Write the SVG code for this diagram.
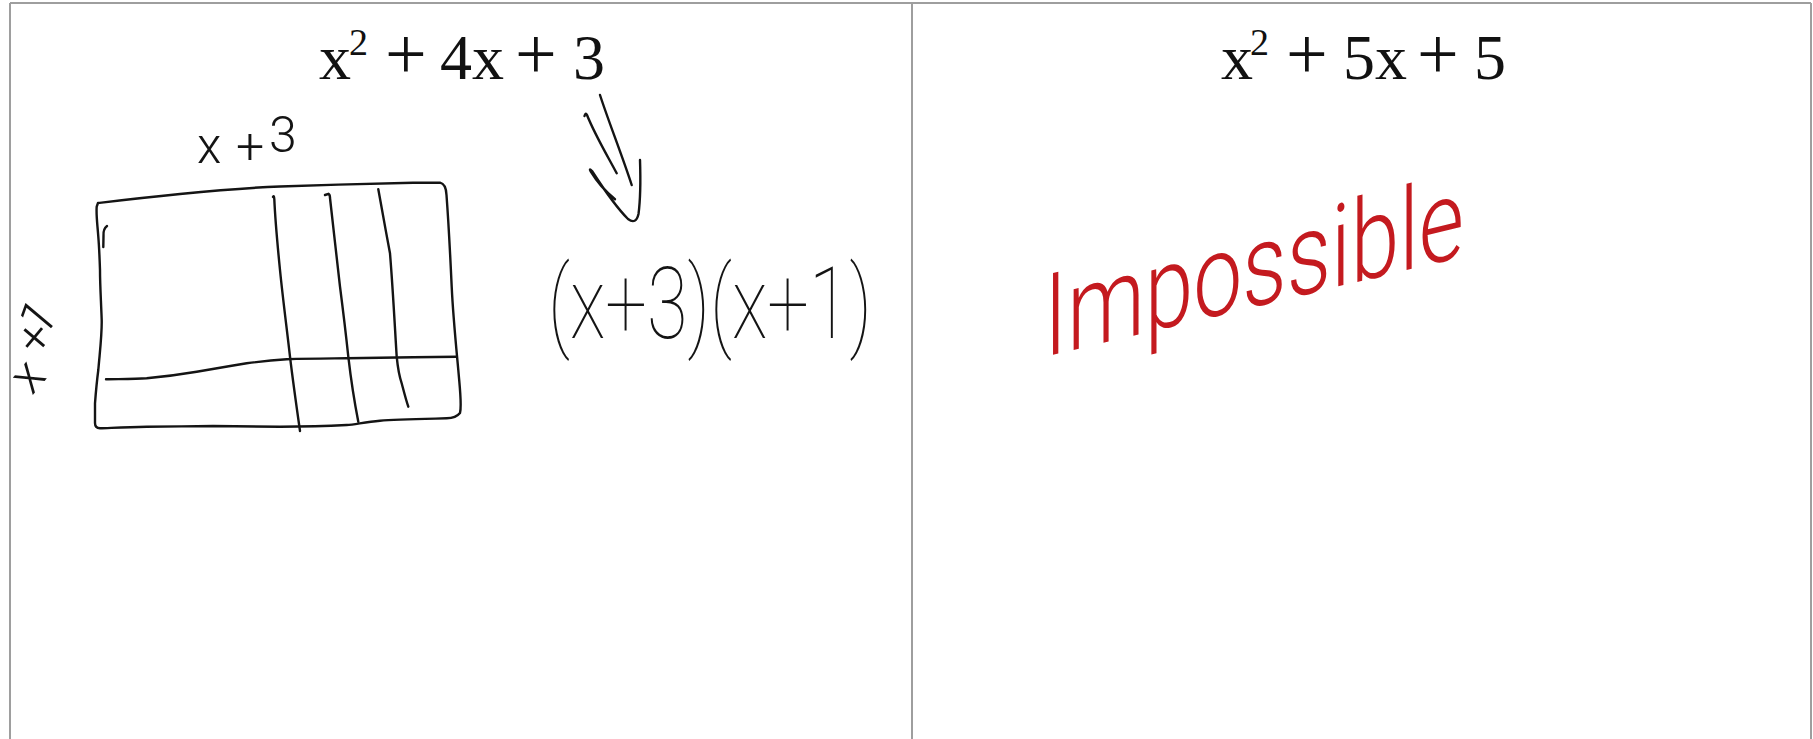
<svg xmlns="http://www.w3.org/2000/svg" width="1813" height="739" viewBox="0 0 1813 739">
  <style>
    .frame { stroke: #9e9e9e; stroke-width: 2; fill: none; }
    .title { font-family: "Liberation Serif", "DejaVu Serif", serif; font-size: 64px; fill: #111; }
    .sup { font-size: 38px; }
    .op { font-size: 74px; }
    .ink { fill: none; stroke: #141414; stroke-width: 2.4; stroke-linecap: round; stroke-linejoin: round; }
    .hand { font-family: Roboto, Lato, "Open Sans", sans-serif; font-weight: 100; fill: #141414; }
    .handsm { font-family: Roboto, Lato, "Open Sans", sans-serif; font-weight: 300; fill: #141414; }
    .red { font-family: Roboto, Lato, "Open Sans", sans-serif; font-weight: 300; fill: #c41a1f; }
  </style>
  <rect x="0" y="0" width="1813" height="739" fill="#ffffff"/>

  <g id="frame">
    <line class="frame" x1="10" y1="3" x2="1811" y2="3"/>
    <line class="frame" x1="10" y1="3" x2="10" y2="739"/>
    <line class="frame" x1="912" y1="3" x2="912" y2="739"/>
    <line class="frame" x1="1811" y1="3" x2="1811" y2="739"/>
  </g>

  <g id="title-left">
    <text class="title" y="79"><tspan x="319">x</tspan><tspan class="sup" x="349" y="55">2</tspan><tspan class="op" x="385" y="79">+</tspan><tspan x="440">4x</tspan><tspan class="op" x="515">+</tspan><tspan x="573">3</tspan></text>
  </g>

  <g id="title-right">
    <text class="title" y="79"><tspan x="1221">x</tspan><tspan class="sup" x="1250" y="55">2</tspan><tspan class="op" x="1286" y="79">+</tspan><tspan x="1343">5x</tspan><tspan class="op" x="1417">+</tspan><tspan x="1474">5</tspan></text>
  </g>

  <g id="area-model">
    <path class="ink" d="M98,203 C115,201 140,198 180,194 C210,191 240,188 280,186.5 C320,185 380,183.5 413,182.7 L440,182.7 Q446,184 446.5,195 C448,215 450,250 451.7,286.7 C453,315 456,345 458.3,370 C460,390 462,405 460,413 Q456,418 446.7,418.3 C420,419 395,419.5 380,420.7 C365,422 355,424.5 346.7,425 C320,426.5 300,426.7 280,426.7 C250,426.5 230,426 213,426 C190,426.3 170,426.6 146.7,426.7 C125,427 110,428 100,428.3 Q95,428 95,423 C95,415 95,410 95,403.3 C96,390 97,380 98.3,370 C100,350 102,335 101.7,320 C101,300 100,285 100,270 C99.5,255 99,245 98.3,236.7 C97.5,225 96,215 96.7,206.7 Z"/>
    <path class="ink" d="M107,226 Q103,229 103.5,236 L103.3,247"/>
    <path class="ink" d="M106,379.3 C120,379 135,379 146.7,378.3 C165,376.5 180,374.5 196.7,371.7 C215,368.5 230,366 246.7,363.3 C260,361.5 275,360 286.7,359.3 C310,358.5 330,358.5 346.7,358.3 C380,357.8 400,357.5 413.3,357.3 L456.7,356.7"/>
    <path class="ink" d="M273,197 Q274,195 274.3,199 C275,215 277,240 280,270 C283,300 287,330 290,356.7 C293,382 297,410 300,431"/>
    <path class="ink" d="M325,195 L328.5,193.8 Q330,194.5 330,198 C333,225 337,260 340,286.7 C343,310 346,335 348.3,356.7 C351,380 355,405 358.3,421.7"/>
    <path class="ink" d="M378.3,189.3 C382,210 386,232 390,253.3 C393,290 395,330 396.7,356.7 C398,370 399.5,377 401.7,383.3 C404,392 406,400 408.3,406.7"/>
  </g>

  <g id="label-top">
    <text class="handsm" font-size="50" x="197 236 269" y="163 163 152">x+3</text>
  </g>

  <g id="label-left">
    <text class="handsm" font-size="50" x="32 38 42" y="396 359 339" rotate="-50 -50 -50">x+1</text>
  </g>

  <g id="connectors">
    <path class="ink" d="M600,95 C608,120 622,155 631.7,185"/>
    <path class="ink" d="M584.5,116 Q585.5,112 587,115 C595,135 607,155 616.7,173.3"/>
    <path class="ink" d="M615,199.3 C606,192 596,180 590.5,171 Q589,168 592,171 C603,188 615,206 628,219 Q636,225 638.5,214 C641,195 640.5,175 640,160"/>
  </g>

  <g id="factored">
    <text class="hand" x="548" y="338" font-size="100" textLength="324" lengthAdjust="spacingAndGlyphs">(x+3)(x+1)</text>
  </g>

  <g id="impossible">
    <text class="red" x="0" y="0" font-size="115" textLength="420" lengthAdjust="spacingAndGlyphs" transform="translate(1044 357) skewY(-13.5)">Impossible</text>
  </g>
</svg>
